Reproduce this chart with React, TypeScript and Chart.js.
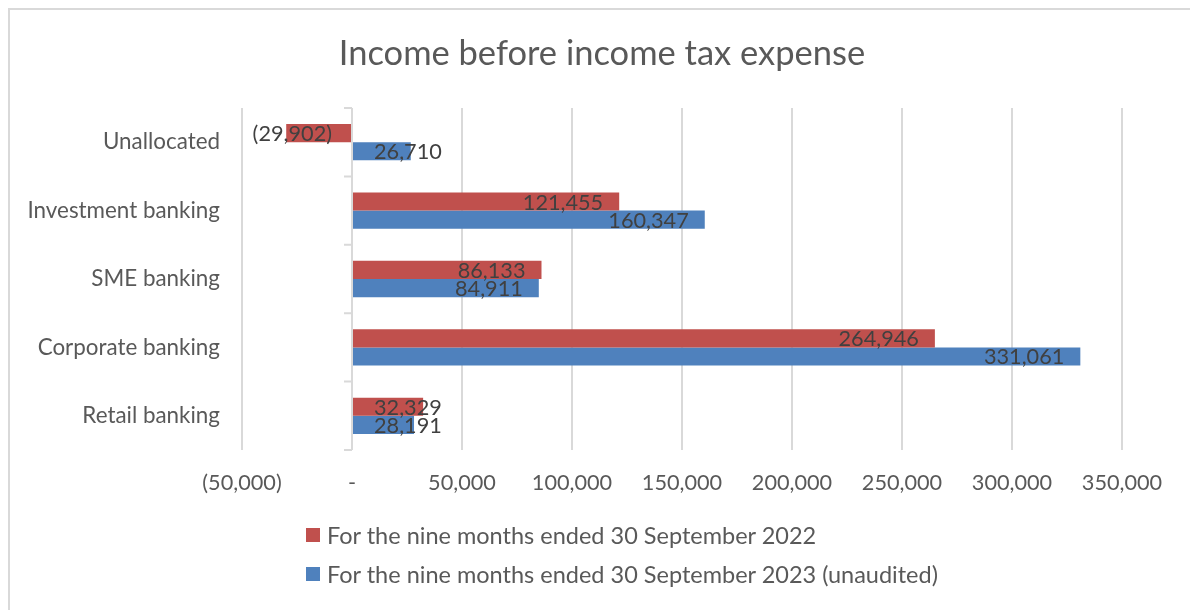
import React, { useEffect, useRef } from "react";
import { Chart, registerables } from "chart.js";

Chart.register(...registerables);

const categories = ["Unallocated", "Investment banking", "SME banking", "Corporate banking", "Retail banking"];
const series2022Label = "For the nine months ended 30 September 2022";
const series2023Label = "For the nine months ended 30 September 2023 (unaudited)";
const values2022 = [-29902, 121455, 86133, 264946, 32329];
const values2023 = [26710, 160347, 84911, 331061, 28191];
const xMin = -50000;
const xMax = 350000;
const xStep = 50000;
const titleText = "Income before income tax expense";

const RED = "#C0504D";
const BLUE = "#4F81BD";
const FONT = "Lato, 'Open Sans', sans-serif";

function fmt(v: number): string {
  if (v === 0) return "-";
  const s = Math.abs(v).toLocaleString("en-US");
  return v < 0 ? `(${s})` : s;
}

const zeroAxisPlugin = {
  id: "zeroAxis",
  beforeDatasetsDraw(chart: any) {
    const { ctx, chartArea, scales } = chart;
    const x0 = scales.x.getPixelForValue(0);
    const n = categories.length;
    const band = (chartArea.bottom - chartArea.top) / n;
    ctx.save();
    ctx.strokeStyle = "#D9D9D9";
    ctx.lineWidth = 2;
    ctx.beginPath();
    ctx.moveTo(x0, chartArea.top);
    ctx.lineTo(x0, chartArea.bottom);
    for (let i = 0; i <= n; i++) {
      const y = chartArea.top + band * i;
      ctx.moveTo(x0 - 8, y);
      ctx.lineTo(x0, y);
    }
    ctx.stroke();
    ctx.restore();
  },
};

const dataLabelPlugin = {
  id: "dataLabels",
  afterDatasetsDraw(chart: any) {
    const { ctx } = chart;
    ctx.save();
    ctx.font = `21.7px ${FONT}`;
    ctx.fillStyle = "#404040";
    ctx.textBaseline = "middle";
    ctx.textAlign = "left";
    chart.data.datasets.forEach((ds: any, di: number) => {
      const meta = chart.getDatasetMeta(di);
      meta.data.forEach((bar: any, i: number) => {
        const v = ds.data[i] as number;
        const text = fmt(v);
        const w = ctx.measureText(text).width;
        const base = bar.base;
        const end = bar.x;
        let left: number;
        if (v >= 0) {
          left = Math.max(end - 16 - w, base + 21);
        } else {
          const right = Math.min(end + 16 + w, base - 19);
          left = right - w;
        }
        ctx.fillText(text, left, bar.y + 1);
      });
    });
    ctx.restore();
  },
};

export default function App() {
  const ref = useRef<HTMLCanvasElement | null>(null);

  useEffect(() => {
    document.body.style.margin = "0";
    if (!ref.current) return;
    const chart = new Chart(ref.current, {
      type: "bar",
      data: {
        labels: categories,
        datasets: [
          {
            label: series2022Label,
            data: values2022,
            backgroundColor: RED,
            categoryPercentage: 0.53,
            barPercentage: 1,
          },
          {
            label: series2023Label,
            data: values2023,
            backgroundColor: BLUE,
            categoryPercentage: 0.53,
            barPercentage: 1,
          },
        ],
      },
      options: {
        indexAxis: "y",
        animation: false,
        responsive: false,
        maintainAspectRatio: false,
        layout: { padding: { left: 4, right: 68, top: 108, bottom: 90 } },
        plugins: {
          legend: { display: false },
          title: { display: false },
          tooltip: { enabled: false },
        },
        scales: {
          x: {
            min: xMin,
            max: xMax,
            border: { display: false },
            grid: { color: "#D9D9D9", lineWidth: 2, drawTicks: false },
            ticks: {
              stepSize: xStep,
              padding: 20,
              color: "#595959",
              font: { family: FONT, size: 21.7 },
              maxRotation: 0,
              autoSkip: false,
              callback: (v: any) => fmt(Number(v)),
            },
            afterFit: (s: any) => {
              s.height = 70;
            },
          },
          y: {
            border: { display: false },
            grid: { display: false, drawTicks: false },
            ticks: {
              padding: 22,
              color: "#595959",
              font: { family: FONT, size: 22.4 },
            },
            afterFit: (s: any) => {
              s.width = 238;
            },
          },
        },
      },
      plugins: [zeroAxisPlugin, dataLabelPlugin],
    });
    return () => chart.destroy();
  }, []);

  const legendItem = (color: string, text: string, top: number) => (
    <div
      style={{
        position: "absolute",
        left: 306,
        top,
        height: 28,
        display: "flex",
        alignItems: "center",
        fontFamily: FONT,
        fontSize: 23.5,
        lineHeight: "28px",
        color: "#595959",
        whiteSpace: "nowrap",
      }}
    >
      <span style={{ display: "inline-block", width: 14, height: 14, background: color, marginRight: 7 }} />
      <span>{text}</span>
    </div>
  );

  return (
    <div style={{ position: "relative", width: 1190, height: 610, overflow: "hidden", background: "#fff" }}>
      <div
        style={{
          position: "absolute",
          left: 8,
          top: 8,
          width: 1200,
          height: 620,
          borderLeft: "2px solid #D9D9D9",
          borderTop: "2px solid #D9D9D9",
        }}
      />
      <canvas ref={ref} width={1190} height={610} style={{ position: "absolute", left: 0, top: 0 }} />
      <div
        style={{
          position: "absolute",
          left: 0,
          width: 1204,
          top: 29,
          textAlign: "center",
          fontFamily: FONT,
          fontSize: 34.5,
          color: "#595959",
          lineHeight: "46px",
        }}
      >
        {titleText}
      </div>
      {legendItem(RED, series2022Label, 521)}
      {legendItem(BLUE, series2023Label, 560)}
    </div>
  );
}
